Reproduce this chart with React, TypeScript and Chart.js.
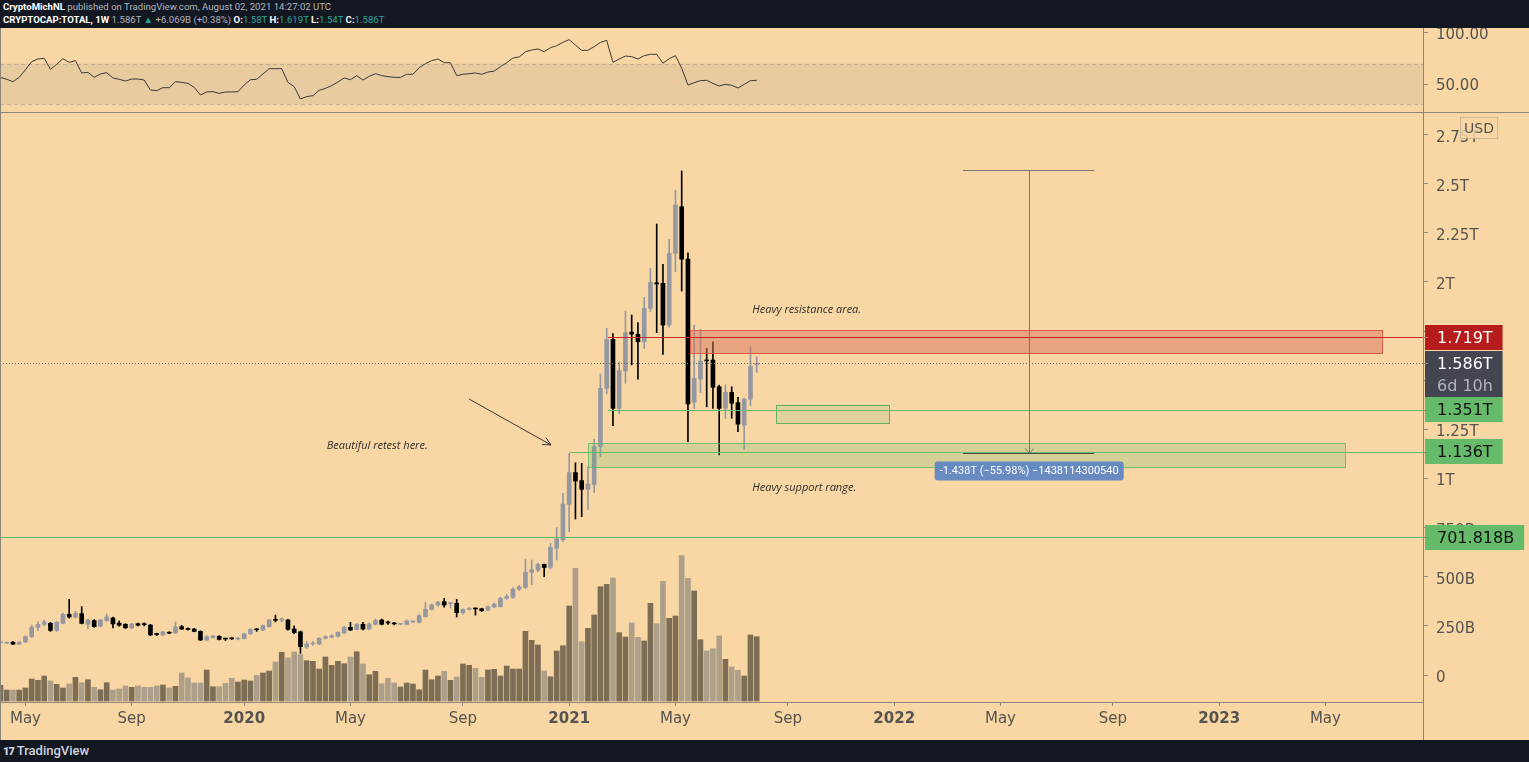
import { useEffect, useRef } from 'react';
import { Chart, registerables } from 'chart.js';

Chart.register(...registerables);

// ---------------- data (weekly bars, values in trillions USD) ----------------
const START_DATE = '2019-04-08';

const openT = [
  0.165, 0.162, 0.167, 0.157, 0.168, 0.195, 0.243, 0.258, 0.263, 0.227,
  0.263, 0.309, 0.295, 0.312, 0.258, 0.277, 0.249, 0.277, 0.29, 0.264,
  0.258, 0.24, 0.261, 0.258, 0.254, 0.207, 0.204, 0.216, 0.214, 0.246,
  0.234, 0.234, 0.222, 0.178, 0.19, 0.197, 0.184, 0.186, 0.183, 0.185,
  0.21, 0.232, 0.229, 0.246, 0.28, 0.28, 0.28, 0.234, 0.22, 0.142,
  0.158, 0.158, 0.187, 0.193, 0.197, 0.214, 0.243, 0.232, 0.258, 0.234,
  0.258, 0.28, 0.268, 0.263, 0.258, 0.258, 0.27, 0.268, 0.297, 0.334,
  0.356, 0.373, 0.363, 0.365, 0.317, 0.334, 0.339, 0.337, 0.33, 0.346,
  0.348, 0.39, 0.395, 0.437, 0.446, 0.523, 0.534, 0.563, 0.548, 0.645,
  0.687, 0.869, 1.03, 0.989, 0.945, 0.97, 1.162, 1.459, 1.708, 1.357,
  1.547, 1.745, 1.734, 1.696, 1.866, 1.996, 1.993, 1.781, 2.146, 2.383,
  2.116, 1.388, 1.506, 1.603, 1.603, 1.467, 1.357, 1.438, 1.386, 1.272,
  1.404, 1.58,
];
const highT = [
  0.168, 0.168, 0.17, 0.17, 0.2, 0.255, 0.27, 0.28, 0.268, 0.272,
  0.315, 0.385, 0.325, 0.348, 0.285, 0.282, 0.283, 0.31, 0.295, 0.275,
  0.262, 0.263, 0.264, 0.266, 0.258, 0.213, 0.222, 0.22, 0.27, 0.253,
  0.24, 0.237, 0.225, 0.2, 0.2, 0.2, 0.186, 0.19, 0.19, 0.213,
  0.235, 0.237, 0.255, 0.283, 0.305, 0.29, 0.283, 0.25, 0.224, 0.17,
  0.17, 0.19, 0.2, 0.205, 0.22, 0.248, 0.268, 0.262, 0.268, 0.265,
  0.285, 0.285, 0.275, 0.268, 0.262, 0.28, 0.276, 0.31, 0.37, 0.362,
  0.375, 0.39, 0.37, 0.385, 0.337, 0.343, 0.341, 0.34, 0.352, 0.366,
  0.395, 0.41, 0.445, 0.455, 0.59, 0.585, 0.57, 0.565, 0.67, 0.75,
  0.925, 1.128, 1.08, 1.077, 1.06, 1.2, 1.532, 1.764, 1.737, 1.594,
  1.852, 1.832, 1.793, 1.922, 2.069, 2.295, 2.09, 2.217, 2.468, 2.565,
  2.149, 1.781, 1.759, 1.662, 1.696, 1.475, 1.476, 1.467, 1.413, 1.41,
  1.671, 1.619,
];
const lowT = [
  0.162, 0.16, 0.155, 0.155, 0.165, 0.19, 0.225, 0.25, 0.222, 0.222,
  0.26, 0.29, 0.29, 0.26, 0.235, 0.243, 0.245, 0.273, 0.24, 0.248,
  0.237, 0.236, 0.25, 0.25, 0.2, 0.2, 0.201, 0.21, 0.212, 0.231,
  0.228, 0.22, 0.175, 0.175, 0.187, 0.178, 0.175, 0.18, 0.179, 0.183,
  0.206, 0.222, 0.225, 0.243, 0.27, 0.27, 0.228, 0.21, 0.11, 0.135,
  0.15, 0.155, 0.183, 0.188, 0.193, 0.21, 0.226, 0.23, 0.23, 0.23,
  0.255, 0.255, 0.258, 0.255, 0.255, 0.255, 0.266, 0.265, 0.295, 0.33,
  0.35, 0.345, 0.34, 0.295, 0.31, 0.33, 0.305, 0.323, 0.326, 0.343,
  0.345, 0.385, 0.39, 0.43, 0.44, 0.46, 0.525, 0.5, 0.54, 0.585,
  0.68, 0.73, 0.794, 0.806, 0.843, 0.928, 1.111, 1.43, 1.269, 1.33,
  1.484, 1.578, 1.506, 1.662, 1.85, 1.742, 1.632, 1.77, 2.052, 1.954,
  1.187, 1.357, 1.437, 1.365, 1.357, 1.12, 1.306, 1.306, 1.238, 1.149,
  1.37, 1.54,
];
const closeT = [
  0.166, 0.166, 0.157, 0.167, 0.195, 0.243, 0.257, 0.27, 0.227, 0.268,
  0.309, 0.295, 0.314, 0.263, 0.28, 0.246, 0.28, 0.295, 0.26, 0.253,
  0.24, 0.26, 0.253, 0.256, 0.204, 0.206, 0.219, 0.213, 0.245, 0.234,
  0.232, 0.222, 0.178, 0.195, 0.198, 0.181, 0.183, 0.184, 0.187, 0.21,
  0.232, 0.23, 0.251, 0.28, 0.278, 0.285, 0.232, 0.215, 0.144, 0.158,
  0.16, 0.187, 0.195, 0.2, 0.217, 0.243, 0.229, 0.258, 0.234, 0.26,
  0.278, 0.258, 0.265, 0.26, 0.259, 0.275, 0.272, 0.302, 0.334, 0.356,
  0.37, 0.356, 0.368, 0.317, 0.334, 0.339, 0.336, 0.327, 0.348, 0.36,
  0.39, 0.4, 0.437, 0.449, 0.523, 0.536, 0.563, 0.547, 0.65, 0.692,
  0.87, 1.03, 0.987, 0.945, 0.972, 1.162, 1.459, 1.708, 1.357, 1.549,
  1.742, 1.735, 1.696, 1.866, 1.998, 1.99, 1.781, 2.146, 2.392, 2.116,
  1.379, 1.51, 1.598, 1.598, 1.464, 1.357, 1.438, 1.383, 1.277, 1.404,
  1.569, 1.586,
];
// relative volume (no visible scale in the reference)
const volumeRel = [
  15.7,
  11, 11, 11, 13, 22, 20.7, 25, 20, 16.7, 13, 17, 23.7, 18.3, 21.3, 13.7, 11.3, 18.3, 11, 12, 15,
  13.7, 15, 13.7, 13.7, 15, 16, 13, 14.7, 28, 23, 18, 18, 31, 14.3, 14.3, 17.7, 22.7, 19, 21, 20, 25.7,
  28, 30, 39, 48.7, 43, 49, 46.3, 40.3, 39.7, 32, 44, 35.7, 39.7, 37.3, 44, 49.3, 37, 26.3, 29.7, 17.3,
  22.7, 18, 14, 18, 17, 11.3, 31, 21.3, 25, 29.7, 20.7, 24, 37, 35.7, 32.7, 23.7, 31, 31.7, 25, 35, 32, 32,
  69.7, 60.7, 56, 30, 24.3, 50, 55.3, 95, 132.7, 59.3, 72.7, 86, 114.3, 116.7, 123, 68.3, 64, 78, 63.7,
  60, 97.7, 77.3, 119.7, 82.7, 85, 145.3, 122.7, 110, 61.3, 50, 52.3, 65, 41.7, 34, 30.7, 25, 66, 64.3,
];
const rsi14 = [
  56.5,
  54.6, 52.3, 56.5, 64.0, 71.9, 74.5, 75.2, 64.4, 69.3, 74.8,
  71.2, 72.9, 60.8, 61.4, 56.5, 59.8, 61.1, 55.9, 54.6, 52.9,
  54.9, 54.9, 53.9, 44.1, 43.5, 46.4, 46.4, 52.3, 51.6, 50.6,
  46.7, 39.2, 42.2, 42.5, 40.8, 42.2, 42.2, 42.5, 49.0, 54.2,
  54.6, 59.8, 65.0, 65.0, 65.0, 51.6, 47.4, 35.3, 37.6, 38.6,
  43.8, 45.7, 48.4, 52.0, 55.9, 54.2, 58.2, 53.9, 57.5, 60.1,
  58.2, 57.2, 56.5, 56.5, 59.5, 59.5, 66.0, 69.9, 72.9, 74.5,
  70.9, 70.9, 58.2, 59.5, 60.1, 60.8, 59.5, 61.7, 62.7, 67.0,
  70.9, 75.5, 76.5, 81.7, 83.3, 84.3, 81.7, 85.6, 87.6, 90.8,
  93.5, 88.2, 83.0, 83.0, 86.6, 90.8, 92.8, 71.2, 74.5, 77.4,
  76.8, 74.5, 77.8, 79.1, 79.1, 70.3, 74.8, 77.8, 65.4, 49.0,
  51.3, 53.3, 53.6, 50.6, 48.0, 49.7, 48.7, 46.1, 49.7, 53.3,
  53.6,
];

const xTickDates = [
  '2019-05-06', '2019-09-02', '2020-01-06', '2020-05-04', '2020-09-07', '2021-01-04', '2021-05-03',
  '2021-09-06', '2022-01-03', '2022-05-02', '2022-09-05', '2023-01-02', '2023-05-01',
];
const xTickLabels = ['May', 'Sep', '2020', 'May', 'Sep', '2021', 'May', 'Sep', '2022', 'May', 'Sep', '2023', 'May'];
const priceTicks = [0, 0.25, 0.5, 0.75, 1, 1.25, 1.5, 1.75, 2, 2.25, 2.5, 2.75];
const rsiTicks = [50, 100];

const tagValues = [1.719, 1.586, 1.351, 1.136, 0.701818];
const tagLabels = ['1.719T', '1.586T', '1.351T', '1.136T', '701.818B'];
const tagSubLabels = ['', '6d 10h', '', '', ''];

const measureTop = 2.569;
const measureBottom = 1.131;
const measureText = '-1.438T (\u221255.98%) \u22121438114300540';

// ---------------- layout / style constants ----------------
const WEEK_MS = 7 * 24 * 3600 * 1000;
const weekIndex = (d: string) => (Date.parse(d) - Date.parse(START_DATE)) / WEEK_MS;

const X_MIN = -0.072;
const X_MAX = 227.77;
const PRICE_MIN = -0.1374;
const PRICE_MAX = 2.86;
const RSI_MIN = 22.55;
const RSI_MAX = 104.9;
const AXIS_W = 105;

const BG = '#F8D7A4';
const AXIS_FONT = '"DejaVu Sans", Verdana, sans-serif';
const LABEL_COLOR = '#555350';
const LINE_GRAY = '#8c877d';
const UP = '#9598A1';
const DOWN = '#000000';
const VOL_UP = '#7d6d55';
const VOL_DOWN = '#ad9f8a';
const GREEN = '#66bb6a';

// annotation geometry in data units (x: weeks since START_DATE, y: trillions)
const BOXES = [
  { x0: 110.3, x1: 221.1, top: 1.754, bottom: 1.639, fill: 'rgba(216,115,92,0.5)', stroke: 'rgba(226,80,62,0.9)' },
  { x0: 94.05, x1: 215.2, top: 1.179, bottom: 1.057, fill: 'rgba(102,187,106,0.23)', stroke: 'rgba(102,187,106,0.85)' },
  { x0: 124.1, x1: 142.2, top: 1.374, bottom: 1.282, fill: 'rgba(102,187,106,0.16)', stroke: 'rgba(90,175,90,0.95)' },
];
const HLINES = [
  { from: 97.2, value: 1.719, color: '#c62828', dash: [] as number[] },
  { from: 97.2, value: 1.351, color: GREEN, dash: [] as number[] },
  { from: 91.1, value: 1.136, color: GREEN, dash: [] as number[] },
  { from: X_MIN, value: 0.701818, color: GREEN, dash: [] as number[] },
  { from: X_MIN, value: 1.586, color: '#6e6a64', dash: [1, 2] },
];
const NOTES = [
  { x: 120.3, y: 1.8575, text: 'Heavy resistance area.' },
  { x: 52.2, y: 1.165, text: 'Beautiful retest here.' },
  { x: 120.3, y: 0.9517, text: 'Heavy support range.' },
];
const ARROW = { x0: 74.97, y0: 1.4046, x1: 88.1, y1: 1.1705 };
const MEASURE = { x0: 154.0, x1: 175.0, xc: 164.6, labelY: 1.038 };

const up = (i: number) => closeT[i] >= openT[i];
const fmtPrice = (v: number) => {
  if (Math.abs(v) < 1e-9) return '0';
  if (v < 1) return `${Math.round(v * 1000)}B`;
  return `${parseFloat(v.toFixed(2))}T`;
};

const mainPlugin = {
  id: 'tvMain',
  afterDatasetsDraw(chart: any) {
    const { ctx, chartArea: a, scales } = chart;
    const X = (v: number) => scales.x.getPixelForValue(v);
    const Y = (v: number) => scales.y.getPixelForValue(v);
    const r = (v: number) => Math.round(v) + 0.5;
    ctx.save();
    ctx.beginPath();
    ctx.rect(a.left, a.top, a.right - a.left, a.bottom - a.top);
    ctx.clip();

    BOXES.forEach((b) => {
      const x1 = r(X(b.x0));
      const x2 = r(X(b.x1));
      const y1 = r(Y(b.top));
      const y2 = r(Y(b.bottom));
      ctx.fillStyle = b.fill;
      ctx.fillRect(x1, y1, x2 - x1, y2 - y1);
      ctx.strokeStyle = b.stroke;
      ctx.lineWidth = 1;
      ctx.strokeRect(x1, y1, x2 - x1, y2 - y1);
    });

    HLINES.forEach((l) => {
      const y = r(Y(l.value));
      ctx.strokeStyle = l.color;
      ctx.lineWidth = 1;
      ctx.setLineDash(l.dash);
      ctx.beginPath();
      ctx.moveTo(Math.max(a.left, X(l.from)), y);
      ctx.lineTo(a.right, y);
      ctx.stroke();
    });
    ctx.setLineDash([]);

    // notes
    ctx.fillStyle = '#2f2d2a';
    ctx.font = 'italic 11px "Open Sans", "Noto Sans", sans-serif';
    ctx.textBaseline = 'middle';
    ctx.textAlign = 'left';
    NOTES.forEach((n) => ctx.fillText(n.text, X(n.x), Y(n.y)));

    // arrow
    const ax0 = X(ARROW.x0), ay0 = Y(ARROW.y0), ax1 = X(ARROW.x1), ay1 = Y(ARROW.y1);
    ctx.strokeStyle = '#3a3835';
    ctx.lineWidth = 1;
    ctx.beginPath();
    ctx.moveTo(ax0, ay0);
    ctx.lineTo(ax1, ay1);
    const ang = Math.atan2(ay1 - ay0, ax1 - ax0);
    [0.45, -0.45].forEach((d) => {
      ctx.moveTo(ax1, ay1);
      ctx.lineTo(ax1 - 9 * Math.cos(ang + d), ay1 - 9 * Math.sin(ang + d));
    });
    ctx.stroke();

    // measure tool
    const mx = r(X(MEASURE.xc));
    const mt = r(Y(measureTop));
    const mb = r(Y(measureBottom));
    ctx.strokeStyle = '#7a7670';
    ctx.beginPath();
    ctx.moveTo(X(MEASURE.x0), mt);
    ctx.lineTo(X(MEASURE.x1), mt);
    ctx.moveTo(mx, mt);
    ctx.lineTo(mx, mb);
    ctx.moveTo(mx - 4, mb - 5);
    ctx.lineTo(mx, mb);
    ctx.lineTo(mx + 4, mb - 5);
    ctx.stroke();
    ctx.strokeStyle = '#4a4a48';
    ctx.beginPath();
    ctx.moveTo(X(MEASURE.x0), mb);
    ctx.lineTo(X(MEASURE.x1), mb);
    ctx.stroke();

    // measure label
    const lw = 189, lh = 19;
    const lx = X(MEASURE.xc) - lw / 2;
    const ly = Y(MEASURE.labelY) - lh / 2;
    const rad = 3;
    ctx.fillStyle = 'rgba(92,132,196,0.92)';
    ctx.beginPath();
    ctx.moveTo(lx + rad, ly);
    ctx.lineTo(lx + lw - rad, ly);
    ctx.quadraticCurveTo(lx + lw, ly, lx + lw, ly + rad);
    ctx.lineTo(lx + lw, ly + lh - rad);
    ctx.quadraticCurveTo(lx + lw, ly + lh, lx + lw - rad, ly + lh);
    ctx.lineTo(lx + rad, ly + lh);
    ctx.quadraticCurveTo(lx, ly + lh, lx, ly + lh - rad);
    ctx.lineTo(lx, ly + rad);
    ctx.quadraticCurveTo(lx, ly, lx + rad, ly);
    ctx.fill();
    ctx.fillStyle = '#ffffff';
    ctx.font = '11px Roboto, sans-serif';
    ctx.textAlign = 'center';
    ctx.fillText(measureText, X(MEASURE.xc), Y(MEASURE.labelY) + 0.5);
    ctx.restore();
  },
  afterDraw(chart: any) {
    const { ctx, chartArea: a, scales } = chart;
    const Y = (v: number) => scales.y.getPixelForValue(v);
    ctx.save();
    const tagColors = [
      { bg: '#b71c1c', fg: '#ffffff', sub: '#ffffff' },
      { bg: '#434651', fg: '#ffffff', sub: '#b2b5be' },
      { bg: GREEN, fg: '#111111', sub: '#111111' },
      { bg: GREEN, fg: '#111111', sub: '#111111' },
      { bg: GREEN, fg: '#111111', sub: '#111111' },
    ];
    ctx.font = `16px ${AXIS_FONT}`;
    ctx.textBaseline = 'middle';
    ctx.textAlign = 'left';
    tagValues.forEach((v, i) => {
      const yc = Y(v);
      const w = Math.max(77, ctx.measureText(tagLabels[i]).width + 22);
      const h = tagSubLabels[i] ? 47 : 25;
      const top = Math.round(yc - 12.5);
      ctx.fillStyle = tagColors[i].bg;
      ctx.fillRect(a.right + 1, top, w, h);
      ctx.fillStyle = tagColors[i].fg;
      ctx.fillText(tagLabels[i], a.right + 13, top + 14);
      if (tagSubLabels[i]) {
        ctx.fillStyle = tagColors[i].sub;
        ctx.fillText(tagSubLabels[i], a.right + 13, top + 36);
      }
      ctx.strokeStyle = LINE_GRAY;
      ctx.beginPath();
      ctx.moveTo(a.right, Math.round(yc) + 0.5);
      ctx.lineTo(a.right + 4, Math.round(yc) + 0.5);
      ctx.stroke();
    });
    // currency box
    const bx = a.right + 36.5, by = a.top + 4.5, bw = 37, bh = 21;
    ctx.fillStyle = 'rgba(248,215,164,0.85)';
    ctx.fillRect(bx, by, bw, bh);
    ctx.strokeStyle = 'rgba(170,160,140,0.6)';
    ctx.strokeRect(bx, by, bw, bh);
    ctx.fillStyle = LABEL_COLOR;
    ctx.font = `14px ${AXIS_FONT}`;
    ctx.textAlign = 'center';
    ctx.fillText('USD', bx + bw / 2, by + bh / 2 + 1);
    ctx.restore();
  },
};

const rsiPlugin = {
  id: 'tvRsi',
  beforeDatasetsDraw(chart: any) {
    const { ctx, chartArea: a, scales } = chart;
    const Y = (v: number) => scales.y.getPixelForValue(v);
    ctx.save();
    ctx.fillStyle = '#E9CBA0';
    ctx.fillRect(a.left, Y(70), a.right - a.left, Y(30) - Y(70));
    ctx.strokeStyle = 'rgba(150,140,125,0.45)';
    ctx.setLineDash([4, 3]);
    ctx.lineWidth = 1;
    [70, 30].forEach((v) => {
      const y = Math.round(Y(v)) + 0.5;
      ctx.beginPath();
      ctx.moveTo(a.left, y);
      ctx.lineTo(a.right, y);
      ctx.stroke();
    });
    ctx.restore();
  },
};

export default function App() {
  const rsiRef = useRef<HTMLCanvasElement>(null);
  const mainRef = useRef<HTMLCanvasElement>(null);

  useEffect(() => {
    document.body.style.margin = '0';
    const idx = openT.map((_, i) => i);

    const rsiChart = new Chart(rsiRef.current as HTMLCanvasElement, {
      type: 'line',
      data: {
        datasets: [
          {
            data: rsi14.map((v, i) => ({ x: i, y: v })),
            borderColor: '#3b3936',
            borderWidth: 1,
            pointRadius: 0,
            tension: 0,
          },
        ],
      },
      options: {
        animation: false,
        responsive: true,
        maintainAspectRatio: false,
        devicePixelRatio: 1,
        events: [],
        layout: { padding: 0 },
        plugins: { legend: { display: false }, tooltip: { enabled: false } },
        scales: {
          x: { type: 'linear', min: X_MIN, max: X_MAX, display: false },
          y: {
            type: 'linear',
            position: 'right',
            min: RSI_MIN,
            max: RSI_MAX,
            afterBuildTicks: (s: any) => {
              s.ticks = rsiTicks.map((v) => ({ value: v }));
            },
            afterFit: (s: any) => {
              s.width = AXIS_W;
              s.paddingTop = 0;
              s.paddingBottom = 0;
            },
            ticks: {
              callback: (v: any) => Number(v).toFixed(2),
              color: LABEL_COLOR,
              font: { family: AXIS_FONT, size: 15 },
              padding: 8,
              labelOffset: 2,
            },
            grid: { drawOnChartArea: false, drawTicks: true, tickLength: 4, color: LINE_GRAY },
            border: { display: false },
          },
        },
      },
      plugins: [rsiPlugin],
    } as any);

    const mainChart = new Chart(mainRef.current as HTMLCanvasElement, {
      type: 'bar',
      data: {
        datasets: [
          {
            label: 'bodies',
            data: idx.map((i) => ({ x: i, y: [openT[i], closeT[i]] })),
            backgroundColor: idx.map((i) => (up(i) ? UP : DOWN)),
            barThickness: 4,
            minBarLength: 1,
            grouped: false,
            order: 1,
            yAxisID: 'y',
          },
          {
            label: 'wicks',
            data: idx.map((i) => ({ x: i, y: [lowT[i], highT[i]] })),
            backgroundColor: idx.map((i) => (up(i) ? UP : DOWN)),
            barThickness: 1,
            grouped: false,
            order: 2,
            yAxisID: 'y',
          },
          {
            label: 'volume',
            data: idx.map((i) => ({ x: i, y: volumeRel[i] })),
            backgroundColor: idx.map((i) => (up(i) ? VOL_UP : VOL_DOWN)),
            barThickness: 5,
            grouped: false,
            order: 3,
            yAxisID: 'yVol',
          },
        ],
      },
      options: {
        animation: false,
        responsive: true,
        maintainAspectRatio: false,
        devicePixelRatio: 1,
        events: [],
        layout: { padding: 0 },
        plugins: { legend: { display: false }, tooltip: { enabled: false } },
        scales: {
          x: {
            type: 'linear',
            min: X_MIN,
            max: X_MAX,
            offset: false,
            position: 'bottom',
            afterBuildTicks: (s: any) => {
              s.ticks = xTickDates.map((d) => ({ value: weekIndex(d) }));
            },
            afterFit: (s: any) => {
              s.height = 38;
              s.paddingLeft = 0;
              s.paddingRight = 0;
            },
            ticks: {
              autoSkip: false,
              maxRotation: 0,
              callback: (_v: any, i: number) => xTickLabels[i],
              color: LABEL_COLOR,
              padding: 4,
              font: (c: any) => ({
                family: AXIS_FONT,
                size: 15,
                weight: /^\d{4}$/.test(xTickLabels[c.index] || '') ? 'bold' : 'normal',
              }),
            },
            grid: { drawOnChartArea: false, drawTicks: true, tickLength: 4, color: LINE_GRAY, offset: false },
            border: { display: false },
          },
          y: {
            type: 'linear',
            position: 'right',
            min: PRICE_MIN,
            max: PRICE_MAX,
            afterBuildTicks: (s: any) => {
              s.ticks = priceTicks.map((v) => ({ value: v }));
            },
            afterFit: (s: any) => {
              s.width = AXIS_W;
              s.paddingTop = 0;
              s.paddingBottom = 0;
            },
            ticks: {
              callback: (v: any) => fmtPrice(Number(v)),
              color: LABEL_COLOR,
              font: { family: AXIS_FONT, size: 15 },
              padding: 8,
              labelOffset: 3,
            },
            grid: { drawOnChartArea: false, drawTicks: true, tickLength: 4, color: LINE_GRAY },
            border: { display: false },
          },
          yVol: {
            type: 'linear',
            display: false,
            min: -1,
            max: 588,
          },
        },
      },
      plugins: [mainPlugin],
    } as any);

    return () => {
      rsiChart.destroy();
      mainChart.destroy();
    };
  }, []);

  const teal = { color: '#26a69a' };
  const white = { color: '#ffffff', fontWeight: 700 as const };

  return (
    <div
      style={{
        position: 'fixed',
        left: 0,
        top: 0,
        width: 1529,
        height: 762,
        background: BG,
        overflow: 'hidden',
      }}
    >
      <div style={{ position: 'absolute', left: 0, top: 28, width: 1529, height: 84 }}>
        <canvas ref={rsiRef} />
      </div>
      <div style={{ position: 'absolute', left: 0, top: 112, width: 1529, height: 1, background: LINE_GRAY }} />
      <div style={{ position: 'absolute', left: 0, top: 113, width: 1529, height: 627 }}>
        <canvas ref={mainRef} />
      </div>
      <div style={{ position: 'absolute', left: 0, top: 702, width: 1424, height: 1, background: LINE_GRAY }} />
      <div style={{ position: 'absolute', left: 1423, top: 28, width: 1, height: 712, background: LINE_GRAY }} />
      <div style={{ position: 'absolute', left: 0, top: 28, width: 1, height: 712, background: LINE_GRAY }} />
      <div
        style={{
          position: 'absolute',
          left: 0,
          top: 0,
          width: 1529,
          height: 28,
          background: '#131722',
          color: '#b2b5be',
          fontFamily: 'Roboto, "Liberation Sans", sans-serif',
          fontSize: 9.6,
          lineHeight: '13px',
          paddingLeft: 3,
          boxSizing: 'border-box',
          whiteSpace: 'nowrap',
        }}
      >
        <div>
          <span style={white}>CryptoMichNL</span> published on TradingView.com, August 02, 2021 14:27:02 UTC
        </div>
        <div>
          <span style={white}>CRYPTOCAP:TOTAL, 1W</span> 1.586T <span style={teal}>▲</span> +6.069B (+0.38%){' '}
          <span style={white}>O:</span>
          <span style={teal}>1.58T</span> <span style={white}>H:</span>
          <span style={teal}>1.619T</span> <span style={white}>L:</span>
          <span style={teal}>1.54T</span> <span style={white}>C:</span>
          <span style={teal}>1.586T</span>
        </div>
      </div>
      <div
        style={{
          position: 'absolute',
          left: 0,
          top: 740,
          width: 1529,
          height: 22,
          background: '#131722',
          color: '#d1d4dc',
          fontFamily: 'Roboto, sans-serif',
          fontSize: 13,
          lineHeight: '22px',
          paddingLeft: 3,
          boxSizing: 'border-box',
          whiteSpace: 'nowrap',
        }}
      >
        <span style={{ fontWeight: 900, letterSpacing: -1, marginRight: 3, fontSize: 11 }}>17</span>
        <span style={{ fontWeight: 500 }}>TradingView</span>
      </div>
    </div>
  );
}
